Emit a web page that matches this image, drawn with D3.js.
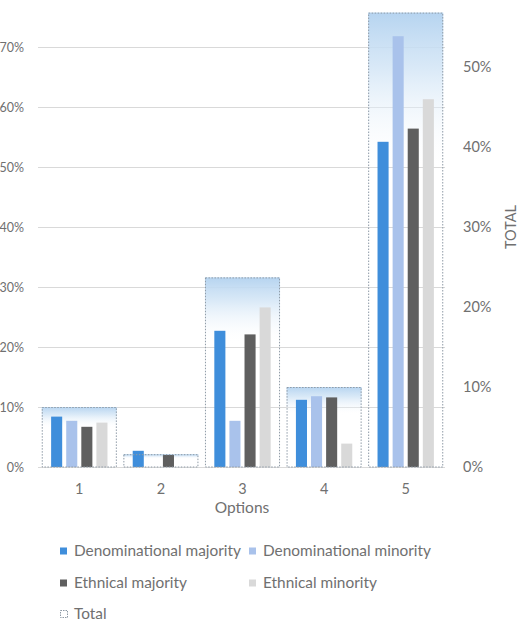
<!DOCTYPE html>
<html>
<head>
<meta charset="utf-8">
<script src="https://cdn.jsdelivr.net/npm/d3@7"></script>
<style>
  html, body { margin: 0; padding: 0; background: #fff; }
  svg { display: block; font-family: Lato, "Open Sans", sans-serif; }
</style>
</head>
<body>
<svg id="chart" width="526" height="621"></svg>
<script>
// Answer options on the x axis
const categories = ["1", "2", "3", "4", "5"];

// Share of respondents per option, by group (primary axis)
const seriesNames = ["Denominational majority", "Denominational minority", "Ethnical majority", "Ethnical minority"];
const denominationalMajority = [0.084, 0.027, 0.227, 0.112, 0.542];
const denominationalMinority = [0.077, 0.000, 0.077, 0.118, 0.718];
const ethnicalMajority       = [0.067, 0.020, 0.221, 0.116, 0.564];
const ethnicalMinority       = [0.074, 0.000, 0.266, 0.039, 0.613];

// Overall share per option (secondary axis, "TOTAL")
const total = [0.075, 0.016, 0.237, 0.100, 0.568];

// Axis tick values
const leftTicks  = [0, 0.1, 0.2, 0.3, 0.4, 0.5, 0.6, 0.7];
const rightTicks = [0, 0.1, 0.2, 0.3, 0.4, 0.5];

const seriesValues = [denominationalMajority, denominationalMinority, ethnicalMajority, ethnicalMinority];
const colors = ["#3f8edb", "#a9c2eb", "#5f5f5f", "#d9d9d9"];
const textColor = "#707070";

const svg = d3.select("#chart");

const plotLeft = 38, plotRight = 445, plotBottom = 467;

const x = d3.scaleBand().domain(categories)
  .range([38.5, 446.5]).paddingInner(0.08).paddingOuter(0.04);
const xs = d3.scaleBand().domain(seriesNames)
  .range([0, x.bandwidth()]).paddingInner(0.267).paddingOuter(0.62);
const yL = d3.scaleLinear().domain([0, 0.7]).range([plotBottom, 47]);
const yR = d3.scaleLinear().domain([0, 0.5]).range([plotBottom, 67]);

const pct = d3.format(".0%");

// Gradient used by the TOTAL boxes: light blue at the top fading out
const defs = svg.append("defs");
const grad = defs.append("linearGradient").attr("id", "totalFill")
  .attr("x1", 0).attr("y1", 0).attr("x2", 0).attr("y2", 1);
grad.append("stop").attr("offset", 0).attr("stop-color", "#b6d4f0").attr("stop-opacity", 1);
grad.append("stop").attr("offset", 0.12).attr("stop-color", "#cfe3f5").attr("stop-opacity", 0.8);
grad.append("stop").attr("offset", 0.35).attr("stop-color", "#ffffff").attr("stop-opacity", 0);

// Horizontal gridlines on the primary axis
svg.append("g")
  .attr("transform", `translate(${plotLeft},0)`)
  .call(d3.axisLeft(yL).tickValues(leftTicks).tickSize(-(plotRight - plotLeft)).tickFormat(""))
  .call(g => g.select(".domain").remove())
  .call(g => g.selectAll("line").attr("stroke", "#d9d9d9").attr("stroke-width", 1));

// Primary axis labels
svg.append("g")
  .attr("transform", "translate(24,0)")
  .call(d3.axisLeft(yL).tickValues(leftTicks).tickSize(0).tickPadding(0).tickFormat(pct))
  .call(g => g.select(".domain").remove())
  .call(g => g.selectAll("text").attr("fill", textColor).style("font-size", "12.5px")
    .style("font-family", "Lato, sans-serif"));

// TOTAL boxes (secondary axis)
svg.append("g").selectAll("rect")
  .data(total)
  .join("rect")
  .attr("x", (d, i) => x(categories[i]))
  .attr("y", d => yR(d))
  .attr("width", x.bandwidth())
  .attr("height", d => yR(0) - yR(d))
  .attr("fill", "url(#totalFill)");

// Grouped bars
const groups = svg.append("g").selectAll("g")
  .data(categories)
  .join("g")
  .attr("transform", c => `translate(${x(c)},0)`);

groups.selectAll("rect")
  .data((c, i) => seriesNames.map((s, k) => ({ s, k, v: seriesValues[k][i] })))
  .join("rect")
  .attr("x", d => xs(d.s))
  .attr("y", d => yL(d.v))
  .attr("width", xs.bandwidth())
  .attr("height", d => yL(0) - yL(d.v))
  .attr("fill", d => colors[d.k]);

// Dotted outlines of the TOTAL boxes
svg.append("g").selectAll("rect")
  .data(total)
  .join("rect")
  .attr("x", (d, i) => x(categories[i]) + 0.5)
  .attr("y", d => yR(d) + 0.5)
  .attr("width", x.bandwidth() - 1)
  .attr("height", d => yR(0) - yR(d) - 0.5)
  .attr("fill", "none")
  .attr("stroke", "#8e9aa6")
  .attr("stroke-width", 1)
  .attr("stroke-dasharray", "1.5,1.5");

// Secondary axis labels
svg.append("g")
  .attr("transform", "translate(463,0)")
  .call(d3.axisRight(yR).tickValues(rightTicks).tickSize(0).tickPadding(0).tickFormat(pct))
  .call(g => g.select(".domain").remove())
  .call(g => g.selectAll("text").attr("fill", textColor).style("font-size", "14.5px")
    .style("font-family", "Lato, sans-serif"));

svg.append("text")
  .attr("transform", "translate(516,227) rotate(-90)")
  .attr("text-anchor", "middle")
  .attr("fill", textColor)
  .style("font-size", "14.5px")
  .text("TOTAL");

// Category axis
svg.append("g")
  .attr("transform", `translate(0,${plotBottom})`)
  .call(d3.axisBottom(x).tickSize(0).tickPadding(17))
  .call(g => g.select(".domain").remove())
  .call(g => g.selectAll("text").attr("fill", textColor).style("font-size", "14.5px")
    .style("font-family", "Lato, sans-serif"));

svg.append("text")
  .attr("x", 242).attr("y", 513)
  .attr("text-anchor", "middle")
  .attr("fill", textColor)
  .style("font-size", "15.5px")
  .text("Options");

// Legend
const legendItems = [
  { name: seriesNames[0], color: colors[0], x: 60, y: 551 },
  { name: seriesNames[1], color: colors[1], x: 249, y: 551 },
  { name: seriesNames[2], color: colors[2], x: 60, y: 583 },
  { name: seriesNames[3], color: colors[3], x: 249, y: 583 },
  { name: "Total", color: null, x: 60, y: 614 }
];
const legend = svg.append("g").selectAll("g")
  .data(legendItems)
  .join("g")
  .attr("transform", d => `translate(${d.x},${d.y})`);
legend.append("rect")
  .attr("x", d => d.color ? 0 : 0.5).attr("y", -3.5)
  .attr("width", 7).attr("height", 7)
  .attr("fill", d => d.color || "#fff")
  .attr("stroke", d => d.color ? "none" : "#8e9aa6")
  .attr("stroke-dasharray", "1.5,1");
legend.append("text")
  .attr("x", 14).attr("dy", "0.35em")
  .attr("fill", textColor)
  .style("font-size", "15.4px")
  .text(d => d.name);
</script>
</body>
</html>
